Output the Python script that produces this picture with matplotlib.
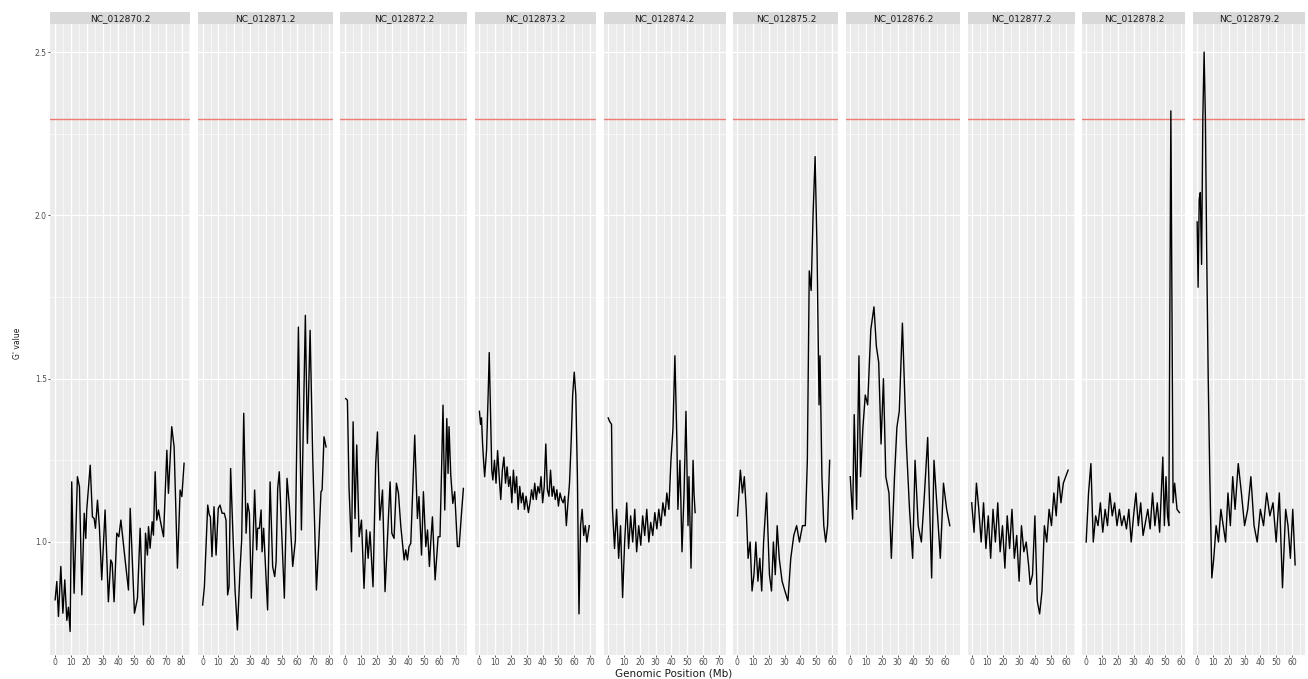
import matplotlib
matplotlib.use('Agg')
import matplotlib.pyplot as plt
import numpy as np

plt.rcParams['font.family'] = ['DejaVu Sans']

# chromosome names and approximate lengths (Mb)
chroms = ['NC_012870.2', 'NC_012871.2', 'NC_012872.2', 'NC_012873.2', 'NC_012874.2',
          'NC_012875.2', 'NC_012876.2', 'NC_012877.2', 'NC_012878.2', 'NC_012879.2']
chrom_len = [81.3, 78.4, 73.7, 70.3, 70.8, 61.0, 66.2, 62.1, 59.8, 65.0]

threshold = 2.295

pos_1 = [0, 1.05, 2.1, 3.6, 4.9, 6.1, 7.4, 8.4, 9.5, 10.5, 12, 14.1, 15.4, 16.9, 18.4, 19.4, 20.0,
         22.2, 23.6, 24.7, 25.5, 26.8, 28.0, 29.5, 31.6, 33.7, 35.2, 36.1, 37.3, 39.0, 40.3, 41.6,
         44.3, 46.4, 47.5, 50.2, 52.1, 53.8, 55.9, 57.2, 58.4, 59.1, 60.1, 61.4, 62.2, 63.3, 64.3,
         65.4, 66.5, 68.6, 70.7, 71.7, 73.8, 75.3, 77.4, 79.1, 80.2, 81.6]
val_1 = [0.823, 0.879, 0.772, 0.925, 0.782, 0.884, 0.76, 0.80, 0.726, 1.184, 0.843, 1.20, 1.169,
         0.838, 1.088, 1.011, 1.098, 1.235, 1.077, 1.072, 1.042, 1.128, 1.047, 0.884, 1.098, 0.817,
         0.945, 0.935, 0.817, 1.027, 1.016, 1.067, 0.945, 0.853, 1.103, 0.782, 0.828, 1.042, 0.746,
         1.027, 0.96, 1.047, 0.981, 1.062, 1.021, 1.215, 1.067, 1.098, 1.067, 1.016, 1.281, 1.149,
         1.353, 1.291, 0.920, 1.159, 1.139, 1.241]

pos_2 = [0, 1.1, 3.2, 4.2, 4.9, 5.9, 7.2, 8.5, 9.9, 11.0, 12.3, 13.7, 14.8, 15.8, 16.7, 17.7, 19.0,
         20.5, 22.0, 23.7, 24.7, 26.0, 27.5, 28.5, 29.6, 30.8, 32.9, 34.2, 34.8, 35.9, 37.0, 37.6,
         38.6, 41.1, 42.7, 44.3, 45.6, 46.5, 47.5, 48.5, 51.7, 53.4, 54.9, 57.0, 58.7, 60.6, 62.5,
         65.0, 66.3, 68.0, 69.7, 72.0, 73.4, 74.9, 75.6, 76.8, 78.1]
val_2 = [0.807, 0.863, 1.113, 1.083, 1.077, 0.955, 1.108, 0.96, 1.103, 1.113, 1.088, 1.088, 1.067,
         0.838, 0.863, 1.225, 1.047, 0.853, 0.731, 0.920, 1.006, 1.394, 1.027, 1.118, 1.088, 0.828,
         1.159, 0.976, 1.042, 1.042, 1.098, 0.970, 1.042, 0.792, 1.184, 0.925, 0.894, 0.94, 1.164,
         1.215, 0.828, 1.195, 1.108, 0.925, 1.006, 1.658, 1.037, 1.694, 1.302, 1.648, 1.251, 0.853,
         0.986, 1.154, 1.159, 1.322, 1.291]

pos_3 = [0.4, 1.5, 2.5, 4.1, 5.1, 6.3, 7.4, 8.9, 10.4, 12.0, 13.5, 14.6, 15.8, 17.7, 19.4, 20.5,
         22.0, 23.7, 25.3, 28.5, 29.6, 31.0, 32.5, 33.8, 35.3, 37.4, 38.4, 39.5, 40.5, 41.6, 44.1,
         45.8, 46.8, 48.4, 49.6, 51.1, 52.2, 53.4, 54.2, 55.3, 57.0, 58.9, 60.1, 62.0, 63.1, 64.4,
         65.2, 65.8, 66.9, 68.2, 69.4, 71.1, 72.2, 73.7, 74.9]
val_3 = [1.439, 1.434, 1.169, 0.97, 1.368, 1.072, 1.297, 1.016, 1.067, 0.858, 1.037, 0.950, 1.031,
         0.863, 1.241, 1.337, 1.067, 1.159, 0.848, 1.184, 1.027, 1.011, 1.180, 1.149, 1.047, 0.945,
         0.976, 0.945, 0.986, 0.996, 1.327, 1.072, 1.139, 0.96, 1.154, 0.986, 1.037, 0.925, 0.996,
         1.077, 0.884, 1.016, 1.016, 1.419, 1.098, 1.378, 1.21, 1.353, 1.205, 1.118, 1.154, 0.986,
         0.986, 1.088, 1.164]

pos_4 = [0, 0.7, 1.3, 2.0, 2.6, 3.3, 4.5, 5.5, 6.2, 7.0, 7.8, 8.5, 9.5, 10.5, 11.5, 12.5, 13.5,
         14.5, 15.5, 16.5, 17.5, 18.5, 19.5, 20.5, 21.5, 22.5, 23.5, 24.5, 25.5, 26.5, 27.5, 28.5,
         29.5, 31, 32, 33, 34, 35, 36, 37, 38, 39, 40, 41, 42, 43, 44, 45, 46, 47, 48, 49, 50, 51,
         52, 53, 54, 55, 56, 57, 58, 59, 60, 61, 62, 63, 64, 65, 66, 67, 68, 69.5]
val_4 = [1.40, 1.36, 1.38, 1.30, 1.25, 1.20, 1.28, 1.45, 1.58, 1.40, 1.22, 1.19, 1.25, 1.18, 1.28,
         1.20, 1.13, 1.22, 1.26, 1.18, 1.23, 1.17, 1.20, 1.12, 1.22, 1.15, 1.20, 1.10, 1.17, 1.12,
         1.15, 1.10, 1.14, 1.09, 1.12, 1.16, 1.13, 1.18, 1.13, 1.17, 1.15, 1.20, 1.12, 1.17, 1.30,
         1.16, 1.14, 1.22, 1.14, 1.17, 1.13, 1.16, 1.11, 1.15, 1.13, 1.12, 1.14, 1.05, 1.12, 1.18,
         1.30, 1.45, 1.52, 1.45, 1.20, 0.78, 1.05, 1.10, 1.02, 1.05, 1.00, 1.05]

pos_5 = [0, 0.8, 2.1, 2.7, 4.0, 5.3, 6.6, 7.8, 9.1, 10.4, 11.7, 12.9, 14.2, 15.5, 16.8, 18.0,
         19.3, 20.6, 21.8, 23.1, 24.4, 25.7, 26.9, 28.2, 29.5, 30.8, 32.0, 33.3, 34.6, 35.9, 37.1,
         38.4, 39.7, 41.0, 42.2, 43.5, 44.1, 45.4, 46.7, 48.0, 49.2, 50.5, 51.1, 52.4, 53.1, 53.7,
         54.3, 55.0]
val_5 = [1.38, 1.37, 1.36, 1.10, 0.98, 1.10, 0.95, 1.05, 0.83, 1.00, 1.12, 0.98, 1.08, 1.00,
         1.10, 0.97, 1.05, 0.99, 1.08, 1.02, 1.10, 1.00, 1.06, 1.02, 1.09, 1.04, 1.10, 1.05, 1.12,
         1.08, 1.15, 1.10, 1.25, 1.35, 1.57, 1.30, 1.10, 1.25, 0.97, 1.15, 1.40, 1.05, 1.20, 0.92,
         1.10, 1.25, 1.15, 1.09]

pos_6 = [0.2, 2.0, 3.3, 4.5, 5.7, 6.9, 8.2, 9.4, 10.6, 11.8, 13.1, 14.3, 15.5, 16.7, 18.6, 20.4,
         21.7, 22.9, 24.1, 25.3, 26.6, 28.4, 30.2, 32.1, 33.9, 35.8, 37.6, 39.4, 41.3, 43.1, 44.4,
         45.6, 46.8, 48.0, 49.3, 50.5, 51.8, 52.4, 53.6, 54.8, 56.0, 57.2, 58.5]
val_6 = [1.08, 1.22, 1.15, 1.20, 1.10, 0.95, 1.00, 0.85, 0.90, 1.00, 0.88, 0.95, 0.85, 1.00, 1.15,
         0.90, 0.85, 1.00, 0.90, 1.05, 0.95, 0.88, 0.85, 0.82, 0.95, 1.02, 1.05, 1.00, 1.05, 1.05,
         1.25, 1.83, 1.77, 2.00, 2.18, 1.90, 1.42, 1.57, 1.20, 1.05, 1.00, 1.05, 1.25]

pos_7 = [0, 1.5, 2.5, 4, 5.5, 6.5, 8, 9.5, 11, 13, 15, 16.5, 18, 19.5, 21, 22.5, 24.5, 26, 28, 29.5,
         31, 33, 35.5, 37.5, 39.5, 41, 43, 45, 47, 49, 51.5, 53, 55, 57, 59, 61, 63]
val_7 = [1.20, 1.07, 1.39, 1.10, 1.57, 1.20, 1.35, 1.45, 1.42, 1.65, 1.72, 1.60, 1.55, 1.30, 1.50,
         1.20, 1.15, 0.95, 1.20, 1.35, 1.40, 1.67, 1.30, 1.10, 0.95, 1.25, 1.05, 1.00, 1.15, 1.32,
         0.89, 1.25, 1.10, 0.95, 1.18, 1.10, 1.05]

pos_8 = [0, 1.5, 3, 4.5, 6, 7.5, 9, 10.5, 12, 13.5, 15, 16.5, 18, 19.5, 21, 22.5, 24, 25.5, 27,
         28.5, 30, 31.5, 33, 34.5, 36, 37, 38.5, 40, 41.5, 43, 44.5, 46, 47.5, 49, 50.5, 52, 53.5,
         55, 56.5, 58, 61]
val_8 = [1.12, 1.03, 1.18, 1.10, 1.00, 1.12, 0.98, 1.08, 0.95, 1.10, 1.00, 1.12, 0.97, 1.05, 0.92,
         1.08, 0.98, 1.10, 0.95, 1.02, 0.88, 1.05, 0.97, 1.00, 0.93, 0.87, 0.90, 1.08, 0.82, 0.78,
         0.85, 1.05, 1.00, 1.10, 1.05, 1.15, 1.08, 1.20, 1.12, 1.18, 1.22]

pos_9 = [0, 1.5, 3, 4.5, 6, 7.5, 9, 10.5, 12, 13.5, 15, 16.5, 18, 19.5, 21, 22.5, 24, 25.5, 27,
         28.5, 30, 31.5, 33, 34.5, 36, 37.5, 39, 40.5, 42, 43.5, 45, 46.5, 48.5, 49.5, 50.5, 51.5,
         52.3, 53.6, 55.0, 56.0, 57.5, 59.0]
val_9 = [1.00, 1.15, 1.24, 1.00, 1.08, 1.05, 1.12, 1.03, 1.10, 1.05, 1.15, 1.08, 1.12, 1.05, 1.10,
         1.05, 1.08, 1.04, 1.10, 1.00, 1.08, 1.15, 1.05, 1.12, 1.02, 1.06, 1.10, 1.04, 1.15, 1.05,
         1.12, 1.03, 1.26, 1.05, 1.20, 1.08, 1.05, 2.32, 1.12, 1.18, 1.10, 1.09]

pos_10 = [0, 0.6, 1.3, 2.0, 2.8, 3.6, 4.4, 5.2, 6.0, 7.0, 8.0, 9.3, 10.5, 12, 13.5, 15, 16.5, 18,
          19.5, 21, 22.5, 24, 26, 28, 30, 32, 34, 36, 38, 40, 42, 44, 46, 48, 50, 52, 54, 56, 57.5,
          59, 60.5, 62]
val_10 = [1.98, 1.78, 2.05, 2.07, 1.85, 2.30, 2.50, 2.30, 1.90, 1.50, 1.20, 0.89, 0.95, 1.05, 1.00,
          1.10, 1.05, 1.00, 1.15, 1.05, 1.20, 1.10, 1.24, 1.15, 1.05, 1.10, 1.20, 1.05, 1.00, 1.10,
          1.05, 1.15, 1.08, 1.12, 1.00, 1.15, 0.86, 1.10, 1.05, 0.95, 1.10, 0.93]

positions = [pos_1, pos_2, pos_3, pos_4, pos_5, pos_6, pos_7, pos_8, pos_9, pos_10]
values = [val_1, val_2, val_3, val_4, val_5, val_6, val_7, val_8, val_9, val_10]

W, H = 1308, 679
fig = plt.figure(figsize=(W / 100, H / 100), dpi=100)

left, right = 50 / W, 1305 / W
gap = 7.67 / W
bottom, top = 24 / H, 655 / H
strip_h = 12 / H

spans = [1.09 * L for L in chrom_len]
avail = right - left - gap * (len(chroms) - 1)
scale = avail / sum(spans)

ylim = (0.654, 2.586)
tick_kw = dict(length=1.5, width=0.6, color='#333333', labelsize=5.5, labelcolor='#4d4d4d', pad=0.8)

x = left
for i, name in enumerate(chroms):
    L = chrom_len[i]
    w = spans[i] * scale
    xmin, xmax = -0.04 * L, 1.05 * L
    ax = fig.add_axes([x, bottom, w, top - bottom])
    ax.set_facecolor('#ebebeb')
    ax.set_xlim(xmin, xmax)
    ax.set_ylim(*ylim)
    ax.set_xticks(np.arange(0, xmax, 10))
    ax.set_xticks(np.arange(5, xmax, 10), minor=True)
    ax.set_yticks([1.0, 1.5, 2.0, 2.5])
    ax.set_yticks([0.75, 1.25, 1.75, 2.25], minor=True)
    ax.grid(which='major', color='white', lw=0.9)
    ax.grid(which='minor', color='white', lw=0.45)
    ax.set_axisbelow(True)
    for s in ax.spines.values():
        s.set_visible(False)
    ax.tick_params(axis='x', which='major', **tick_kw)
    ax.tick_params(which='minor', length=0)
    if i == 0:
        ax.tick_params(axis='y', which='major', **tick_kw)
        ax.set_yticklabels(['1.0', '1.5', '2.0', '2.5'])
    else:
        ax.tick_params(axis='y', which='major', length=0, labelleft=False)

    ax.axhline(threshold, color='#ee7b73', lw=1.0)
    ax.plot(positions[i], values[i], color='black', lw=1.0)

    sax = fig.add_axes([x, top, w, strip_h])
    sax.set_facecolor('#d9d9d9')
    sax.set_xticks([])
    sax.set_yticks([])
    for s in sax.spines.values():
        s.set_visible(False)
    sax.text(0.5, 0.45, name, ha='center', va='center', fontsize=6.5, color='#1a1a1a',
             transform=sax.transAxes)
    x += w + gap

fig.text(674 / W, 0.3 / H, 'Genomic Position (Mb)', ha='center', va='bottom',
         fontsize=7.5, color='#1a1a1a')
fig.text(17 / W, 1 - 343 / H, "G' value", ha='center', va='center', rotation=90,
         fontsize=5.5, color='#1a1a1a')

fig.savefig('out.png', dpi=100)
